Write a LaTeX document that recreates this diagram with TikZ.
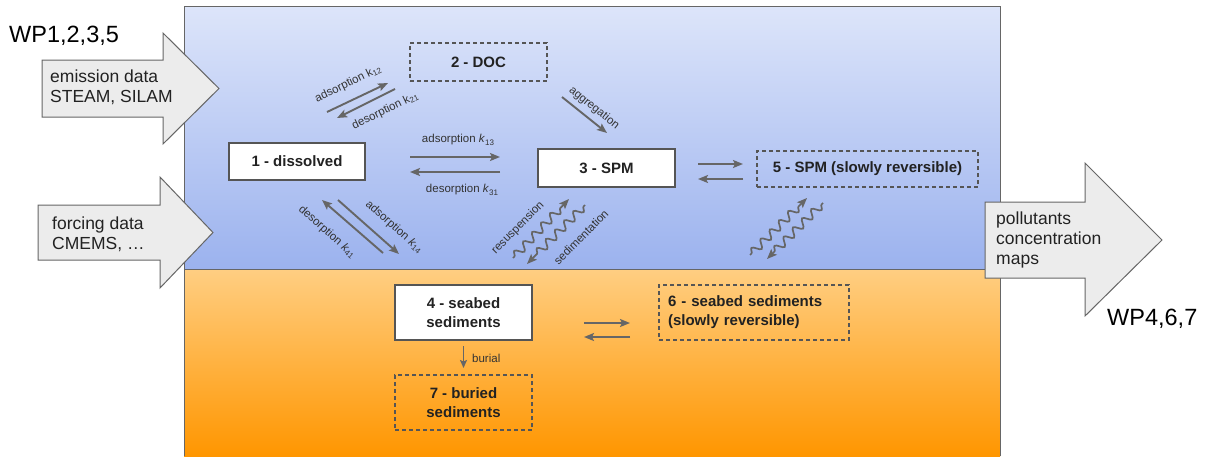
\documentclass[tikz,border=0pt]{standalone}
\usepackage{fontspec}
\setmainfont{Liberation Sans}
\usetikzlibrary{arrows.meta,decorations.pathmorphing}
\definecolor{arrc}{HTML}{666666}
\definecolor{boxc}{HTML}{555555}
\definecolor{txtc}{HTML}{222222}
\definecolor{lblc}{HTML}{333333}
\definecolor{blueTop}{RGB}{221,229,250}
\definecolor{blueBot}{RGB}{155,178,238}
\definecolor{orTop}{RGB}{255,206,130}
\definecolor{orBot}{RGB}{255,150,0}
\definecolor{bigfill}{HTML}{ECECEC}
\newcommand\ksubi[1]{\textit{k}\raisebox{-0.35ex}{\fontsize{8}{8}\selectfont #1}}
\newcommand\ksubu[1]{k\raisebox{-0.35ex}{\fontsize{8}{8}\selectfont #1}}
\tikzset{
  boxnode/.style={draw=boxc, line width=1.1pt, fill=white, text=txtc,
    font=\fontsize{15}{19}\selectfont\bfseries, align=center, inner sep=0pt},
  dboxnode/.style={boxnode, fill=none, dash pattern=on 4pt off 3pt},
  conn/.style={draw=arrc, line width=1.9pt, -{Stealth[length=10pt,width=8pt,inset=2pt]}},
  wavy/.style={conn, line width=1.7pt, decorate, decoration={snake, amplitude=4pt, segment length=13pt, post length=8pt, pre length=2pt}},
  lbl/.style={text=lblc, font=\fontsize{11.5}{13}\selectfont, inner sep=0pt},
  bigarrow/.style={draw=arrc, line width=1pt, fill=bigfill, line join=miter},
  bigtxt/.style={text=txtc, font=\fontsize{17.5}{20}\selectfont, align=left, inner sep=0pt, anchor=west},
  wptxt/.style={text=black, font=\fontsize{23.5}{26}\selectfont, inner sep=0pt}
}
\begin{document}
\begin{tikzpicture}[x=1pt,y=-1pt]
\useasboundingbox (0,0) rectangle (1207,456);
% background panels
\shade[top color=blueTop, bottom color=blueBot] (184,6) rectangle (1000,269);
\shade[top color=orTop, bottom color=orBot] (184,269) rectangle (1000,456);
\draw[draw=arrc, line width=1pt] (184,456) -- (184,6) -- (1000,6) -- (1000,456);
\draw[draw=arrc, line width=1pt] (184,269) -- (1000,269);

% big arrows
\draw[bigarrow] (42,60) -- (163,60) -- (163,33) -- (219,88.5) -- (163,144) -- (163,117) -- (42,117) -- cycle;
\draw[bigarrow] (38,205) -- (160,205) -- (160,177) -- (213,232.5) -- (160,288) -- (160,260) -- (38,260) -- cycle;
\draw[bigarrow] (985,202) -- (1085,202) -- (1085,163) -- (1162,240) -- (1085,316) -- (1085,278) -- (985,278) -- cycle;
\node[bigtxt] (emis) at (50,87) {emission data\\STEAM, SILAM};
\node[bigtxt] (forc) at (52,234) {forcing data\\CMEMS, \ldots};
\node[bigtxt] (poll) at (996,240) {pollutants\\concentration\\maps};
\node[wptxt, anchor=west] (wpa) at (9,36) {WP1,2,3,5};
\node[wptxt, anchor=west] (wpb) at (1107,319) {WP4,6,7};

% boxes
\node[boxnode, minimum width=136pt, minimum height=37pt] (n1) at (297,161.5) {1 - dissolved};
\node[dboxnode, minimum width=137pt, minimum height=38pt] (n2) at (478.5,62) {2 - DOC};
\node[boxnode, minimum width=137pt, minimum height=38pt] (n3) at (606.5,168) {3 - SPM};
\node[dboxnode, minimum width=221pt, minimum height=36pt] (n5) at (867.5,169) {5 - SPM (slowly reversible)};
\node[boxnode, minimum width=137pt, minimum height=55pt] (n4) at (463.5,312.5) {4 - seabed\\sediments};
\node[dboxnode, text width=172pt, inner xsep=9pt, minimum height=55pt, align=left] (n6) at (754,312.5) {6 - seabed sediments\\(slowly reversible)};
\node[dboxnode, minimum width=137pt, minimum height=55pt] (n7) at (463.5,402.5) {7 - buried\\sediments};

% connector end points
\coordinate (a13s) at (410,157); \coordinate (a13e) at (500,157);
\coordinate (d31s) at (500,172); \coordinate (d31e) at (410,172);
\coordinate (a12s) at (327,112); \coordinate (a12e) at (388,83);
\coordinate (d21s) at (395,89);  \coordinate (d21e) at (337,118);
\coordinate (aggs) at (562,97);  \coordinate (agge) at (607,133);
\coordinate (d41s) at (383,253); \coordinate (d41e) at (322,200);
\coordinate (a14s) at (338,200); \coordinate (a14e) at (399,254);
\coordinate (ress) at (513,258); \coordinate (rese) at (569,199);
\coordinate (seds) at (585,205); \coordinate (sede) at (527,264);
\coordinate (u5s) at (750,255);  \coordinate (u5e) at (807,198);
\coordinate (d5s) at (823,203);  \coordinate (d5e) at (767,259);
\coordinate (r35s) at (698,164); \coordinate (r35e) at (743,164);
\coordinate (l35s) at (743,179); \coordinate (l35e) at (698,179);
\coordinate (r46s) at (584,323); \coordinate (r46e) at (630,323);
\coordinate (l46s) at (630,337); \coordinate (l46e) at (584,337);
\coordinate (bus) at (463.5,346); \coordinate (bue) at (463.5,368);

% straight arrows
\draw[conn] (a13s) -- (a13e);
\draw[conn] (d31s) -- (d31e);
\draw[conn] (a12s) -- (a12e);
\draw[conn] (d21s) -- (d21e);
\draw[conn] (aggs) -- (agge);
\draw[conn] (d41s) -- (d41e);
\draw[conn] (a14s) -- (a14e);
\draw[conn] (r35s) -- (r35e);
\draw[conn] (l35s) -- (l35e);
\draw[conn] (r46s) -- (r46e);
\draw[conn] (l46s) -- (l46e);
\draw[conn, line width=1.5pt, -{Stealth[length=8pt,width=7pt,inset=1.5pt]}] (bus) -- (bue);

% wavy arrows
\draw[wavy] (ress) -- (rese);
\draw[wavy] (seds) -- (sede);
\draw[wavy] (u5s) -- (u5e);
\draw[wavy] (d5s) -- (d5e);

% labels
\node[lbl] (l13) at (458,140) {adsorption \ksubi{13}};
\node[lbl] (l31) at (462,190) {desorption \ksubi{31}};
\node[lbl, rotate=26] (l12) at (348,84) {adsorption \ksubu{12}};
\node[lbl, rotate=26] (l21) at (385,111) {desorption \ksubu{21}};
\node[lbl, rotate=-39] (lag) at (594,108) {aggregation};
\node[lbl, rotate=-41.5] (l41) at (327,232) {desorption \ksubi{41}};
\node[lbl, rotate=-41.5] (l14) at (394,227) {adsorption \ksubi{14}};
\node[lbl, rotate=45] (lres) at (518,228) {resuspension};
\node[lbl, rotate=45] (lsed) at (581,237) {sedimentation};
\node[lbl, anchor=west] (lbur) at (472,358) {burial};
\end{tikzpicture}
\end{document}
